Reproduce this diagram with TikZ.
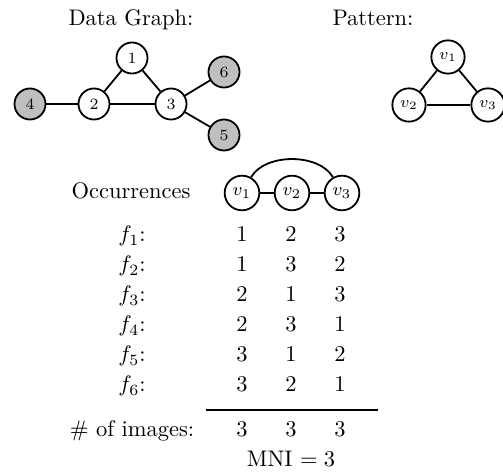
\documentclass[tikz,border=0pt]{standalone}
\begin{document}
\begin{tikzpicture}[x=0.4446pt,y=-0.4446pt,
  vtx/.style={circle,draw,thick,inner sep=0pt,font=\scriptsize},
  dnode/.style={vtx,minimum size=13.8pt},
  gnode/.style={dnode,fill=black!25},
  pnode/.style={vtx,minimum size=14.8pt},
  onode/.style={vtx,minimum size=15.4pt,font=\footnotesize},
  edge/.style={thick},
  lbl/.style={anchor=base,inner sep=0pt}]
\useasboundingbox (0,0) rectangle (503,475);
% titles
\node[lbl] (tdg) at (131,26) {Data Graph:};
\node[lbl] (tpat) at (373,26) {Pattern:};
% data graph
\node[dnode] (d1) at (132,58) {1};
\node[dnode] (d2) at (94,104) {2};
\node[dnode] (d3) at (171,104) {3};
\node[gnode] (d4) at (30,104) {4};
\node[gnode] (d6) at (224,72) {6};
\node[gnode] (d5) at (224,135) {5};
\draw[edge] (d1) -- (d2);
\draw[edge] (d1) -- (d3);
\draw[edge] (d2) -- (d3);
\draw[edge] (d4) -- (d2);
\draw[edge] (d3) -- (d6);
\draw[edge] (d3) -- (d5);
% pattern
\node[pnode] (p1) at (448,57) {$v_1$};
\node[pnode] (p2) at (409,105) {$v_2$};
\node[pnode] (p3) at (488,105) {$v_3$};
\draw[edge] (p1) -- (p2);
\draw[edge] (p1) -- (p3);
\draw[edge] (p2) -- (p3);
% occurrences header
\node[lbl] (occ) at (131,199) {Occurrences};
\node[onode] (o1) at (242,193) {$v_1$};
\node[onode] (o2) at (292,193) {$v_2$};
\node[onode] (o3) at (342,193) {$v_3$};
\draw[edge] (o1) -- (o2);
\draw[edge] (o2) -- (o3);
\draw[edge] (o1.60) .. controls (265,153) and (319,153) .. (o3.120);
% rows
\foreach \i/\a/\b/\c [count=\k from 0] in {1/1/2/3,2/1/3/2,3/2/1/3,4/2/3/1,5/3/1/2,6/3/2/1}{
  \node[lbl] (f\i) at (132,242+30*\k) {$f_{\i}$:};
  \node[lbl] (fa\i) at (242,242+30*\k) {\a};
  \node[lbl] (fb\i) at (291,242+30*\k) {\b};
  \node[lbl] (fc\i) at (340,242+30*\k) {\c};
}
\coordinate (ls) at (206,410);
\coordinate (le) at (378,410);
\draw[edge] (ls) -- (le);
\node[lbl] (noi) at (132,437) {\# of images:};
\node[lbl] (na) at (242,437) {3};
\node[lbl] (nb) at (291,437) {3};
\node[lbl] (nc) at (340,437) {3};
\node[lbl] (mni) at (291,467) {MNI $=3$};
\end{tikzpicture}
\end{document}
